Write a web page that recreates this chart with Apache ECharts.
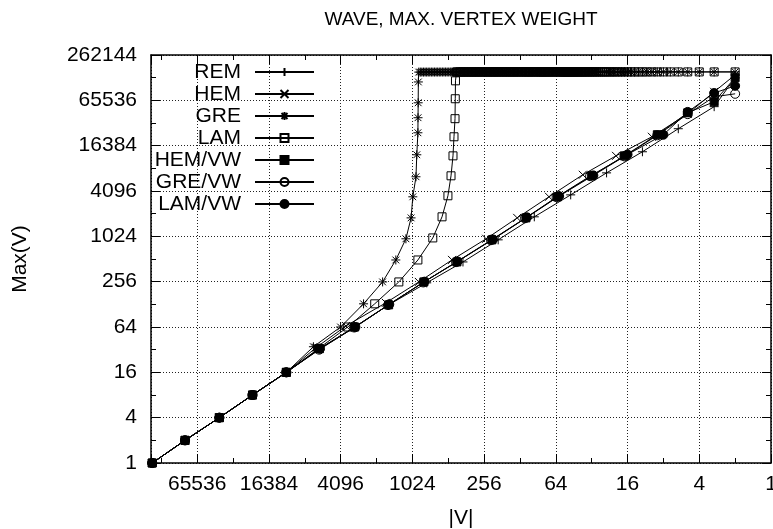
<!DOCTYPE html>
<html>
<head>
<meta charset="utf-8">
<script src="https://cdn.jsdelivr.net/npm/echarts@6/dist/echarts.min.js"></script>
<style>
  html, body { margin: 0; padding: 0; background: #fff; }
  #chart { width: 773px; height: 529px; }
</style>
</head>
<body>
<div id="chart"></div>
<script>
// Multilevel coarsening of the "wave" mesh: number of vertices |V| per level
// against the maximum vertex weight Max(V), one list of [|V|, Max(V)] per scheme.

const SERIES_NAMES = ['REM', 'HEM', 'GRE', 'LAM', 'HEM/VW', 'GRE/VW', 'LAM/VW'];

const REM = [[156317, 1], [82900, 2], [42700, 4], [22500, 8], [11700, 16], [6160, 33],
  [3120, 64], [1620, 126], [776, 247], [385, 468], [195, 920], [97, 1860], [48, 3640],
  [24, 7130], [12, 13600], [6, 27500], [3, 54000], [2, 131000]];

const HEM = [[156317, 1], [82900, 2], [42700, 4], [22500, 8], [11700, 16], [6600, 34],
  [3700, 66], [1710, 134], [903, 254], [476, 498], [246, 950], [135, 1800], [73, 3430],
  [38, 6730], [20, 12000], [10, 21500], [5, 43500], [3, 85000], [2, 143000]];

// Greedy matching: follows the diagonal, then one vertex swallows the graph
const GRE_RISE = [[156317, 1], [82900, 2], [42700, 4], [22500, 8], [11700, 16], [6930, 35],
  [4100, 64], [2630, 130], [1820, 254], [1410, 497], [1160, 950], [1050, 1800],
  [1015, 3430], [955, 6330], [940, 12400], [920, 24300], [918, 38500], [915, 60800],
  [912, 115000]];

const LAM_RISE = [[156317, 1], [82900, 2], [42700, 4], [22500, 8], [11700, 16], [6300, 33],
  [3570, 64], [2120, 130], [1330, 254], [920, 497], [690, 975], [577, 1860], [515, 3540],
  [485, 6520], [467, 12000], [458, 21500], [449, 37400], [447, 68800], [445, 119000]];

// Levels where a single heavy vertex absorbs the remaining ones
const TOP_BAND = [[905, 155413], [878, 155440], [852, 155466], [826, 155492], [801, 155517],
  [777, 155541], [754, 155564], [731, 155587], [709, 155609], [688, 155630], [667, 155651],
  [647, 155671], [628, 155690], [609, 155709], [591, 155727], [573, 155745], [556, 155762],
  [539, 155779], [523, 155795], [507, 155811], [492, 155826], [477, 155841], [463, 155855],
  [449, 155869], [436, 155882], [423, 155895], [410, 155908], [398, 155920], [386, 155932],
  [374, 155944], [363, 155955], [352, 155966], [341, 155977], [331, 155987], [321, 155997],
  [311, 156007], [302, 156016], [293, 156025], [284, 156034], [276, 156042], [268, 156050],
  [260, 156058], [252, 156066], [244, 156074], [237, 156081], [230, 156088], [223, 156095],
  [216, 156102], [210, 156108], [204, 156114], [198, 156120], [192, 156126], [186, 156132],
  [180, 156138], [175, 156143], [170, 156148], [165, 156153], [160, 156158], [155, 156163],
  [150, 156168], [146, 156172], [142, 156176], [138, 156180], [134, 156184], [130, 156188],
  [126, 156192], [122, 156196], [118, 156200], [115, 156203], [112, 156206], [109, 156209],
  [106, 156212], [103, 156215], [100, 156218], [97, 156221], [94, 156224], [91, 156227],
  [88, 156230], [86, 156232], [84, 156234], [82, 156236], [80, 156238], [78, 156240],
  [76, 156242], [74, 156244], [72, 156246], [70, 156248], [68, 156250], [66, 156252],
  [64, 156254], [62, 156256], [60, 156258], [58, 156260], [57, 156261], [56, 156262],
  [55, 156263], [54, 156264], [53, 156265], [52, 156266], [51, 156267], [50, 156268],
  [49, 156269], [48, 156270], [47, 156271], [46, 156272], [45, 156273], [44, 156274],
  [43, 156275], [42, 156276], [41, 156277], [40, 156278], [39, 156279], [38, 156280],
  [37, 156281], [36, 156282], [35, 156283], [34, 156284], [33, 156285], [32, 156286],
  [31, 156287], [30, 156288], [29, 156289], [28, 156290], [27, 156291], [26, 156292],
  [25, 156293], [24, 156294], [23, 156295], [22, 156296], [21, 156297], [20, 156298],
  [19, 156299], [18, 156300], [17, 156301], [16, 156302], [15, 156303], [14, 156304],
  [13, 156305], [12, 156306], [11, 156307], [10, 156308], [9, 156309], [8, 156310],
  [7, 156311], [6, 156312], [5, 156313], [4, 156314], [3, 156315], [2, 156316]];

const HEM_VW = [[156317, 1], [82900, 2], [42700, 4], [22500, 8], [11700, 16], [6160, 33],
  [3120, 64], [1620, 126], [820, 254], [433, 468], [220, 920], [114, 1800], [62, 3430],
  [32, 6520], [17, 12000], [9, 22900], [5, 44800], [3, 62800], [2, 131000]];

const GRE_VW = [[156317, 1], [82900, 2], [42700, 4], [22500, 8], [11700, 16], [6200, 32],
  [3150, 63], [1640, 125], [830, 250], [440, 465], [224, 910], [116, 1780], [63, 3400],
  [33, 6450], [17, 11800], [9, 22500], [5, 43000], [3, 73000], [2, 80000]];

const LAM_VW = [[156317, 1], [82900, 2], [42700, 4], [22500, 8], [11700, 16], [6100, 33],
  [3080, 64], [1600, 128], [810, 256], [428, 475], [216, 930], [112, 1830], [60, 3500],
  [31, 6600], [16, 12500], [8, 22900], [5, 46000], [3, 82000], [2, 102000]];

const X_MAX = 160000;   // |V| range shown (axis runs from large to small)
const Y_MAX = 262144;   // 4^9

const FONT = '"Liberation Sans", Arial, Helvetica, sans-serif';
const FONT_SIZE = 21;

const GRE = GRE_RISE.concat(TOP_BAND);
const LAM = LAM_RISE.concat(TOP_BAND.filter(p => p[0] < LAM_RISE[LAM_RISE.length - 1][0]));

// gnuplot-like point types
const SYM_PLUS = 'path://M0,4L8,4M4,0L4,8';
const SYM_CROSS = 'path://M0,0L8,8M8,0L0,8';
const SYM_STAR = 'path://M0,4L8,4M4,0L4,8M1,1L7,7M7,1L1,7';

function powerOfFour(v) {
  const e = Math.log(v) / Math.log(4);
  const r = Math.round(e);
  if (Math.abs(e - r) > 1e-6) return '';
  return String(Math.round(Math.pow(4, r)));
}

// Log axes that carry the data, the labels and the long ticks
function majorAxis(kind, position, showLabels) {
  const isX = kind === 'x';
  return {
    type: 'log',
    logBase: 4,
    min: 1,
    max: isX ? X_MAX : Y_MAX,
    inverse: isX,
    position: position,
    axisLine: { show: true, onZero: false, lineStyle: { color: '#000', width: 1.5 } },
    axisTick: { show: true, inside: true, length: 9, lineStyle: { color: '#000', width: 1 } },
    axisLabel: {
      show: showLabels,
      formatter: powerOfFour,
      color: '#000',
      fontFamily: FONT,
      fontSize: FONT_SIZE,
      margin: isX ? 11 : 14,
      showMinLabel: true,
      showMaxLabel: true,
      hideOverlap: false
    },
    splitLine: { show: false }
  };
}

// Helper axes in log2 units: short ticks at every power of two, or the dotted grid
function log2Axis(kind, position, step, asGrid) {
  const isX = kind === 'x';
  return {
    type: 'value',
    min: 0,
    max: isX ? Math.log2(X_MAX) : Math.log2(Y_MAX),
    interval: step,
    inverse: isX,
    position: position,
    axisLine: { show: false, onZero: false },
    axisTick: { show: !asGrid, inside: true, length: 5, lineStyle: { color: '#000', width: 1 } },
    axisLabel: { show: false },
    splitLine: {
      show: asGrid,
      lineStyle: { color: '#222', width: 1, type: [1, 2] }
    }
  };
}

function lineSeries(name, data, symbol, size, fill) {
  return {
    name: name,
    type: 'line',
    data: data,
    xAxisIndex: 0,
    yAxisIndex: 0,
    symbol: symbol,
    symbolSize: size,
    showSymbol: true,
    lineStyle: { color: '#000', width: 1 },
    itemStyle: { color: fill, borderColor: '#000', borderWidth: 1 },
    emphasis: { disabled: true },
    silent: true,
    animation: false,
    z: 3
  };
}

const chart = echarts.init(document.getElementById('chart'), null, { renderer: 'canvas' });

chart.setOption({
  animation: false,
  backgroundColor: '#fff',
  textStyle: { fontFamily: FONT },
  grid: { left: 151, right: 2, top: 55, bottom: 66, containLabel: false, outerBoundsMode: 'none' },
  xAxis: [
    majorAxis('x', 'bottom', true),
    majorAxis('x', 'top', false),
    log2Axis('x', 'bottom', 1, false),
    log2Axis('x', 'top', 1, false),
    log2Axis('x', 'bottom', 2, true)
  ],
  yAxis: [
    majorAxis('y', 'left', true),
    majorAxis('y', 'right', false),
    log2Axis('y', 'left', 1, false),
    log2Axis('y', 'right', 1, false),
    log2Axis('y', 'left', 2, true)
  ],
  legend: {
    data: SERIES_NAMES,
    orient: 'vertical',
    align: 'right',
    right: 458,
    top: 61,
    padding: 0,
    itemGap: 0,
    itemWidth: 59,
    itemHeight: 10,
    selectedMode: false,
    textStyle: {
      color: '#000',
      fontFamily: FONT,
      fontSize: FONT_SIZE,
      lineHeight: 22,
      padding: [0, 9, 0, 0]
    }
  },
  graphic: [
    {
      type: 'text', x: 461, y: 20,
      style: { text: 'WAVE, MAX. VERTEX WEIGHT', fill: '#000', font: '19px ' + FONT, align: 'center', verticalAlign: 'middle' }
    },
    {
      type: 'text', x: 461, y: 518,
      style: { text: '|V|', fill: '#000', font: FONT_SIZE + 'px ' + FONT, align: 'center', verticalAlign: 'middle' }
    },
    {
      type: 'text', x: 20, y: 259, rotation: Math.PI / 2,
      style: { text: 'Max(V)', fill: '#000', font: FONT_SIZE + 'px ' + FONT, align: 'center', verticalAlign: 'middle' }
    }
  ],
  series: [
    lineSeries('REM', REM, SYM_PLUS, 9, 'rgba(0,0,0,0)'),
    lineSeries('HEM', HEM, SYM_CROSS, 8, 'rgba(0,0,0,0)'),
    lineSeries('GRE', GRE, SYM_STAR, 9, 'rgba(0,0,0,0)'),
    lineSeries('LAM', LAM, 'rect', 8, 'rgba(0,0,0,0)'),
    lineSeries('HEM/VW', HEM_VW, 'rect', 8, '#000'),
    lineSeries('GRE/VW', GRE_VW, 'circle', 9, 'rgba(0,0,0,0)'),
    lineSeries('LAM/VW', LAM_VW, 'circle', 9, '#000')
  ]
});
</script>
</body>
</html>
